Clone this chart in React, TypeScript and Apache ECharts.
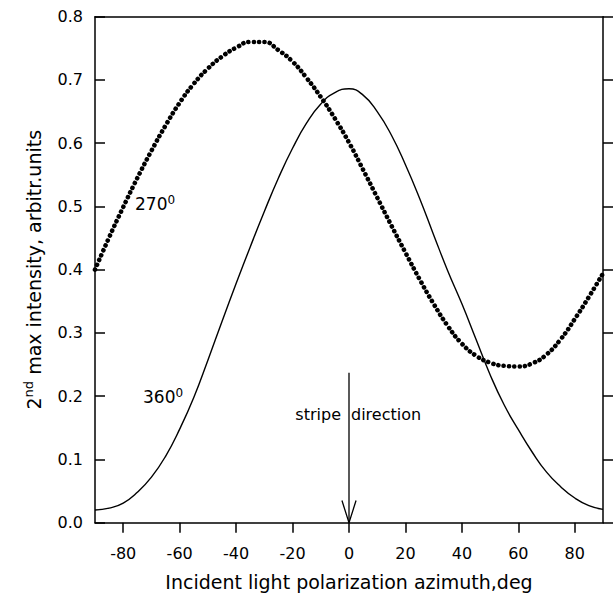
import React, { useEffect, useRef } from "react";
import * as echarts from "echarts";

const angles = [
  -90, -85, -80, -75, -70, -65, -60, -55, -50, -45, -40, -35, -30, -25, -20, -15, -10, -5, 0,
  5, 10, 15, 20, 25, 30, 35, 40, 45, 50, 55, 60, 65, 70, 75, 80, 85, 90,
];

const intensity360 = [
  0.02, 0.023, 0.031, 0.048, 0.072, 0.105, 0.148, 0.198, 0.257, 0.318, 0.378, 0.436, 0.492, 0.545,
  0.592, 0.632, 0.662, 0.68, 0.686, 0.676, 0.65, 0.613, 0.566, 0.513, 0.455, 0.398, 0.346, 0.29,
  0.234, 0.186, 0.147, 0.111, 0.08, 0.057, 0.039, 0.027, 0.021,
];

const intensity270 = [
  0.4, 0.451, 0.499, 0.545, 0.588, 0.628, 0.664, 0.694, 0.718, 0.737, 0.751, 0.76, 0.76, 0.747,
  0.729, 0.703, 0.673, 0.639, 0.601, 0.558, 0.514, 0.47, 0.427, 0.385, 0.346, 0.311, 0.283,
  0.264, 0.253, 0.248, 0.247, 0.252, 0.266, 0.29, 0.322, 0.357, 0.394,
];

const xTickValues = [-80, -60, -40, -20, 0, 20, 40, 60, 80];

const arrowShaft = [
  [0, 0.237],
  [0, 0],
];
const arrowHead = [
  [-2.5, 0.035],
  [0, 0],
  [2.5, 0.035],
];

const FONT = "DejaVu Sans";

export default function App() {
  const ref = useRef<HTMLDivElement>(null);

  useEffect(() => {
    if (!ref.current) return;
    const chart = echarts.init(ref.current, null, { renderer: "svg" });
    const axisLine = { show: true, onZero: false, lineStyle: { color: "#000", width: 1.5 } };
    const tickStyle = { color: "#000", width: 1.5 };

    chart.setOption({
      animation: false,
      backgroundColor: "#fff",
      grid: { left: 95, right: 12, top: 16.7, bottom: 77.3 },
      xAxis: [
        {
          type: "value",
          min: -90,
          max: 90,
          position: "bottom",
          axisLine,
          axisTick: { show: true, inside: false, length: 10, customValues: xTickValues, lineStyle: tickStyle },
          axisLabel: { customValues: xTickValues, margin: 23, fontSize: 16, fontFamily: FONT, color: "#000" },
          splitLine: { show: false },
          name: "Incident light polarization azimuth,deg",
          nameLocation: "middle",
          nameGap: 50,
          nameTextStyle: { fontSize: 19, fontFamily: FONT, color: "#000" },
        },
        {
          type: "value",
          min: -90,
          max: 90,
          position: "top",
          axisLine,
          axisTick: { show: false },
          axisLabel: { show: false },
          splitLine: { show: false },
        },
      ],
      yAxis: [
        {
          type: "value",
          min: 0,
          max: 0.8,
          interval: 0.1,
          position: "left",
          axisLine,
          axisTick: { show: true, inside: true, length: 10, lineStyle: tickStyle },
          axisLabel: {
            margin: 12,
            fontSize: 16,
            fontFamily: FONT,
            color: "#000",
            formatter: (v: number) => v.toFixed(1),
          },
          splitLine: { show: false },
          name: "2{sup|nd} max intensity, arbitr.units",
          nameLocation: "middle",
          nameGap: 49,
          nameTextStyle: {
            fontSize: 19,
            fontFamily: FONT,
            color: "#000",
            lineHeight: 24,
            rich: {
              sup: { fontSize: 13, fontFamily: FONT, color: "#000", verticalAlign: "top", lineHeight: 13 },
            },
          },
        },
        {
          type: "value",
          min: 0,
          max: 0.8,
          interval: 0.1,
          position: "right",
          axisLine,
          axisTick: { show: true, inside: false, length: 10, lineStyle: tickStyle },
          axisLabel: { show: false },
          splitLine: { show: false },
        },
      ],
      series: [
        {
          name: "360",
          type: "line",
          data: angles.map((a, i) => [a, intensity360[i]]),
          smooth: true,
          showSymbol: false,
          lineStyle: { color: "#000", width: 1.4 },
        },
        {
          name: "270",
          type: "line",
          data: angles.map((a, i) => [a, intensity270[i]]),
          smooth: true,
          showSymbol: false,
          lineStyle: { color: "#000", width: 4.6, type: [0.1, 5.2], cap: "round" },
        },
        {
          name: "arrowShaft",
          type: "line",
          data: arrowShaft,
          showSymbol: false,
          lineStyle: { color: "#000", width: 1.3 },
        },
        {
          name: "arrowHead",
          type: "line",
          data: arrowHead,
          showSymbol: false,
          lineStyle: { color: "#000", width: 1.3 },
        },
      ],
      graphic: [
        {
          type: "text",
          x: 135,
          y: 204,
          style: {
            text: "270{sup|0}",
            fontSize: 17,
            fontFamily: FONT,
            fill: "#000",
            verticalAlign: "middle",
            lineHeight: 20,
            rich: { sup: { fontSize: 12, fontFamily: FONT, fill: "#000", verticalAlign: "top", lineHeight: 12 } },
          },
        },
        {
          type: "text",
          x: 143,
          y: 397,
          style: {
            text: "360{sup|0}",
            fontSize: 17,
            fontFamily: FONT,
            fill: "#000",
            verticalAlign: "middle",
            lineHeight: 20,
            rich: { sup: { fontSize: 12, fontFamily: FONT, fill: "#000", verticalAlign: "top", lineHeight: 12 } },
          },
        },
        {
          type: "text",
          x: 341,
          y: 414,
          style: { text: "stripe", fontSize: 16, fontFamily: FONT, fill: "#000", align: "right", verticalAlign: "middle" },
        },
        {
          type: "text",
          x: 351,
          y: 414,
          style: { text: "direction", fontSize: 16, fontFamily: FONT, fill: "#000", align: "left", verticalAlign: "middle" },
        },
      ],
    });

    return () => chart.dispose();
  }, []);

  return <div ref={ref} style={{ position: "fixed", left: 0, top: 0, width: 615, height: 600 }} />;
}
